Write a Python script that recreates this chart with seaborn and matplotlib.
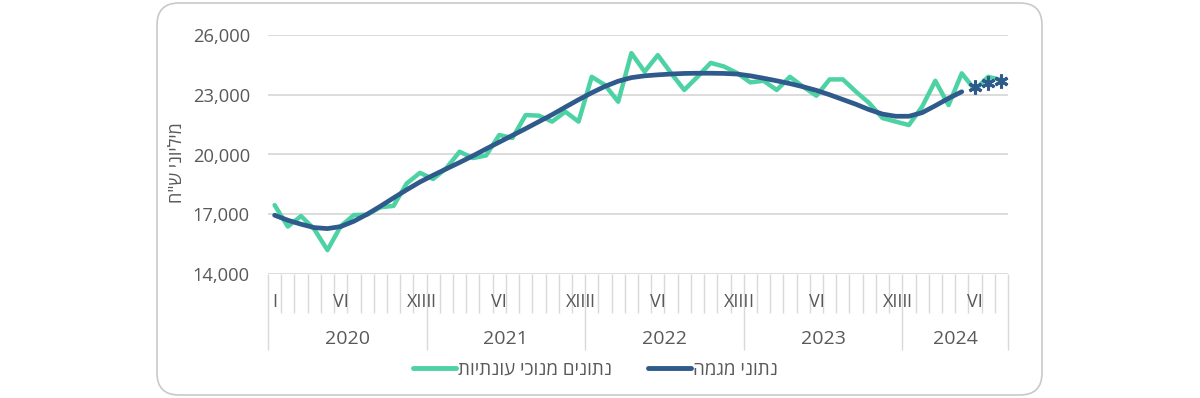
import numpy as np
import pandas as pd
import matplotlib
matplotlib.use("Agg")
import matplotlib.pyplot as plt
import matplotlib.transforms as mtransforms
from matplotlib.patches import FancyBboxPatch
from matplotlib.lines import Line2D
from matplotlib.ticker import FuncFormatter
import seaborn as sns

# DATA
years = ["2020", "2021", "2022", "2023", "2024"]
months_in_year = [12, 12, 12, 12, 8]
month_names = ["I", "", "", "", "", "VI", "", "", "", "", "", "XIII"]

seasonally_adjusted = [
    17460, 16380, 16910, 16250, 15200, 16400, 16960, 16980, 17350, 17420, 18550, 19080,
    18770, 19320, 20140, 19820, 19950, 20980, 20830, 21980, 21950, 21650, 22150, 21650,
    23900, 23490, 22650, 25090, 24160, 24990, 24090, 23240, 23900, 24600, 24420, 24090,
    23620, 23700, 23240, 23900, 23400, 22950, 23770, 23770, 23150, 22580, 21830, 21650,
    21480, 22400, 23700, 22480, 24075, 23250, 23900, 23740,
]
trend = [
    16950, 16700, 16500, 16330, 16280, 16380, 16650, 17000, 17400, 17820, 18230, 18620,
    18960, 19280, 19600, 19930, 20280, 20620, 20960, 21300, 21650, 22000, 22380, 22750,
    23100, 23420, 23680, 23860, 23950, 24000, 24040, 24070, 24080, 24080, 24070, 24040,
    23950, 23830, 23700, 23560, 23400, 23220, 23000, 22760, 22520, 22250, 22030, 21920,
    21920, 22100, 22450, 22820, 23150,
]
trend_forecast = [23370, 23600, 23700]

label_adjusted = "נתונים מנוכי עונתיות"
label_trend = "נתוני מגמה"
y_title = 'מיליוני ש"ח'


def rtl(s):
    # matplotlib has no bidi support, draw Hebrew in visual order
    return s[::-1]


GREEN = "#4DD2A4"
BLUE = "#2F5A8C"
GRID = "#d9d9d9"
TEXT = "#595959"

sns.set_style("white")
plt.rcParams["font.family"] = ["Open Sans", "DejaVu Sans"]

n = sum(months_in_year)
df = pd.DataFrame({"t": np.arange(n), "value": seasonally_adjusted})
df_trend = pd.DataFrame({"t": np.arange(len(trend)), "value": trend})
df_fc = pd.DataFrame({"t": np.arange(len(trend), len(trend) + len(trend_forecast)),
                      "value": trend_forecast})

fig = plt.figure(figsize=(12, 3.98), dpi=100)
fig.set_facecolor("white")

# rounded frame around the chart
frame = FancyBboxPatch((157, 3), 885, 392, boxstyle="round,pad=0,rounding_size=22",
                       transform=mtransforms.IdentityTransform(),
                       fill=False, ec="#c9c9c9", lw=1.2)
fig.add_artist(frame)

ax = fig.add_axes([268 / 1200, 124 / 398, 740 / 1200, 239 / 398])

sns.lineplot(data=df, x="t", y="value", color=GREEN, linewidth=3.2, ax=ax, legend=False)
sns.lineplot(data=df_trend, x="t", y="value", color=BLUE, linewidth=3.4, ax=ax, legend=False)
sns.lineplot(data=df_fc, x="t", y="value", color=BLUE, linestyle="", marker=(6, 2, 0),
             markersize=10, markeredgewidth=2.2, markeredgecolor=BLUE, ax=ax, legend=False)

# Y axis
ax.set_ylim(14000, 26000)
ax.set_yticks(np.arange(14000, 26001, 3000))
ax.yaxis.set_major_formatter(FuncFormatter(lambda v, p: f"{int(v):,}"))
ax.yaxis.grid(True, color=GRID, linewidth=1.3)
ax.tick_params(axis="y", length=0, pad=13, labelsize=13.2, labelcolor=TEXT)
ax.set_ylabel("")
ax.text(-0.123, 0.464, rtl(y_title), transform=ax.transAxes, rotation=90,
        ha="center", va="center", fontsize=13, color=TEXT)

# X axis: month ticks and year separators
ax.set_xlim(-0.5, n - 0.5)
bounds = np.cumsum([0] + months_in_year) - 0.5
ax.set_xticks(bounds)
ax.set_xticks(np.arange(n + 1) - 0.5, minor=True)
ax.set_xticklabels([])
ax.tick_params(axis="x", which="both", bottom=True, direction="out", color=GRID, width=1)
ax.tick_params(axis="x", which="major", length=55)
ax.tick_params(axis="x", which="minor", length=28)
ax.set_xlabel("")

xt = ax.get_xaxis_transform()
for i in range(n):
    lab = month_names[i % 12]
    if lab:
        ax.text(i, -0.118, lab, transform=xt, ha="center", va="center",
                fontsize=13, color=TEXT)
for k, yr in enumerate(years):
    ax.text((bounds[k] + bounds[k + 1]) / 2, -0.272, yr, transform=xt,
            ha="center", va="center", fontsize=14, color=TEXT)

for s in ax.spines.values():
    s.set_visible(False)

# Legend
handles = [Line2D([], [], color=GREEN, lw=3.5), Line2D([], [], color=BLUE, lw=3.5)]
fig.legend(handles, [rtl(label_adjusted), rtl(label_trend)], loc="center",
           bbox_to_anchor=(0.496, 1 - 370 / 398), ncol=2, frameon=False,
           fontsize=13.5, handlelength=2.3, handletextpad=0.1, columnspacing=1.9,
           labelcolor=TEXT)

fig.savefig("out.png", dpi=100)
